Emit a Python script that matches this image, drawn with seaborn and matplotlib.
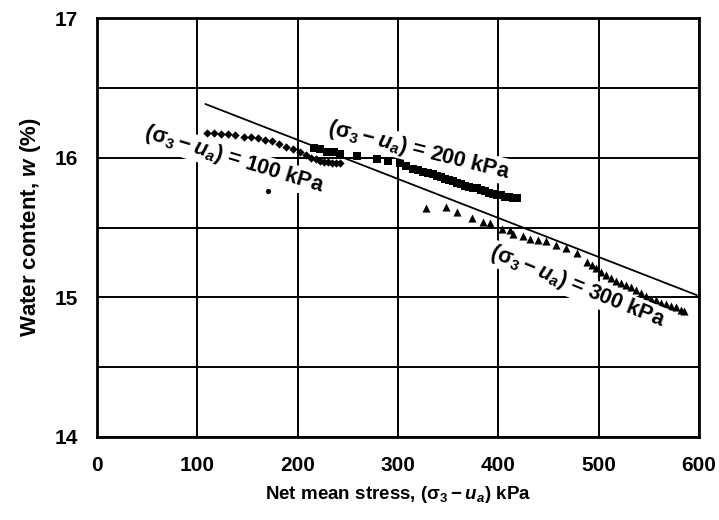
import matplotlib
matplotlib.use("Agg")
import matplotlib.pyplot as plt
import seaborn as sns
import pandas as pd

# Data
x100 = [110, 117, 124, 131, 138, 146, 153, 160, 167, 174, 181, 188, 195, 202,
        208, 213, 218, 222, 226, 230, 234, 238, 242]
w100 = [16.18, 16.18, 16.17, 16.17, 16.16, 16.15, 16.15, 16.14, 16.13, 16.12,
        16.10, 16.08, 16.06, 16.04, 16.02, 16.00, 15.99, 15.98, 15.97, 15.97,
        15.96, 15.96, 15.96]
x100_out = [170]
w100_out = [15.76]

x200 = [216, 222, 229, 236, 242, 259, 279, 290, 302, 308, 315, 320, 325, 330,
        335, 339, 343, 347, 351, 355, 359, 363, 367, 371, 375, 379, 383, 387,
        391, 395, 399, 403, 407, 411, 415, 419]
w200 = [16.07, 16.06, 16.04, 16.04, 16.03, 16.01, 15.99, 15.98, 15.96, 15.94,
        15.92, 15.91, 15.90, 15.89, 15.88, 15.87, 15.86, 15.85, 15.84, 15.83,
        15.82, 15.81, 15.80, 15.79, 15.78, 15.78, 15.77, 15.76, 15.75, 15.74,
        15.73, 15.73, 15.72, 15.72, 15.71, 15.71]

x300 = [328, 348, 359, 374, 385, 392, 404, 412, 415, 425, 432, 440, 448, 458,
        468, 478, 488, 493, 497, 502, 507, 512, 517, 522, 527, 532, 537, 542,
        547, 552, 557, 562, 567, 572, 577, 582, 585]
w300 = [15.64, 15.645, 15.61, 15.57, 15.54, 15.53, 15.49, 15.48, 15.45, 15.44,
        15.42, 15.41, 15.40, 15.375, 15.35, 15.32, 15.25, 15.23, 15.21, 15.18,
        15.16, 15.14, 15.12, 15.10, 15.09, 15.07, 15.05, 15.03, 15.01, 14.99,
        14.98, 14.96, 14.95, 14.94, 14.93, 14.91, 14.90]

# fitted straight line
x_fit = [108, 598]
w_fit = [16.385, 15.015]

xticks = [0, 100, 200, 300, 400, 500, 600]
yticks = [14, 14.5, 15, 15.5, 16, 16.5, 17]
ylabels = ["14", "", "15", "", "16", "", "17"]

labels = [r"$(\mathrm{\sigma}_3 - u_a)$ = 100 kPa",
          r"$(\mathrm{\sigma}_3 - u_a)$ = 200 kPa",
          r"$(\mathrm{\sigma}_3 - u_a)$ = 300 kPa"]
label_x = [137, 321, 479]
label_y = [15.985, 16.055, 15.075]
label_rot = [-17, -14, -22]

sns.set_style("white")
plt.rcParams["font.family"] = ["Liberation Sans", "DejaVu Sans"]
plt.rcParams["font.weight"] = "bold"
plt.rcParams["text.color"] = "black"
plt.rcParams["axes.labelcolor"] = "black"
plt.rcParams["xtick.color"] = "black"
plt.rcParams["ytick.color"] = "black"
plt.rcParams["mathtext.fontset"] = "custom"
plt.rcParams["mathtext.rm"] = "Liberation Sans:bold"
plt.rcParams["mathtext.it"] = "Liberation Sans:italic:bold"
plt.rcParams["mathtext.bf"] = "Liberation Sans:bold"

fig, ax = plt.subplots(figsize=(7.19, 5.20), dpi=100)
fig.subplots_adjust(left=0.135, right=0.972, top=0.965, bottom=0.16)

ax.grid(True, color="black", linewidth=1.4)
ax.set_axisbelow(True)

sns.lineplot(x=x_fit, y=w_fit, ax=ax, color="black", linewidth=1.3)
sns.scatterplot(x=x100, y=w100, ax=ax, marker="D", s=18, color="black",
                edgecolor="black", linewidth=0)
sns.scatterplot(x=x100_out, y=w100_out, ax=ax, marker="o", s=14,
                color="black", linewidth=0)
sns.scatterplot(x=x200, y=w200, ax=ax, marker="s", s=30, color="black",
                linewidth=0)
sns.scatterplot(x=x300, y=w300, ax=ax, marker="^", s=34, color="black",
                linewidth=0)

for txt, tx, ty, rot in zip(labels, label_x, label_y, label_rot):
    ax.text(tx, ty, txt, rotation=rot, rotation_mode="anchor",
            ha="center", va="center", fontsize=15.5, fontweight="bold",
            color="black",
            bbox=dict(facecolor="white", edgecolor="none", pad=0.5))

ax.set_xlim(0, 600)
ax.set_ylim(14, 17)
ax.set_xticks(xticks)
ax.set_yticks(yticks)
ax.set_yticklabels(ylabels)
ax.tick_params(direction="inout", length=10, width=1.5, labelsize=15,
               pad=9)
for sp in ax.spines.values():
    sp.set_visible(True)
    sp.set_color("black")
    sp.set_linewidth(2)

ax.set_xlabel(r"Net mean stress, $(\mathrm{\sigma}_3 - u_a)$ kPa",
              fontsize=13.5, fontweight="bold", labelpad=6)
ax.set_ylabel(r"Water content, $w$ (%)", fontsize=16, fontweight="bold",
              labelpad=8)

plt.savefig("out.png", dpi=100)
